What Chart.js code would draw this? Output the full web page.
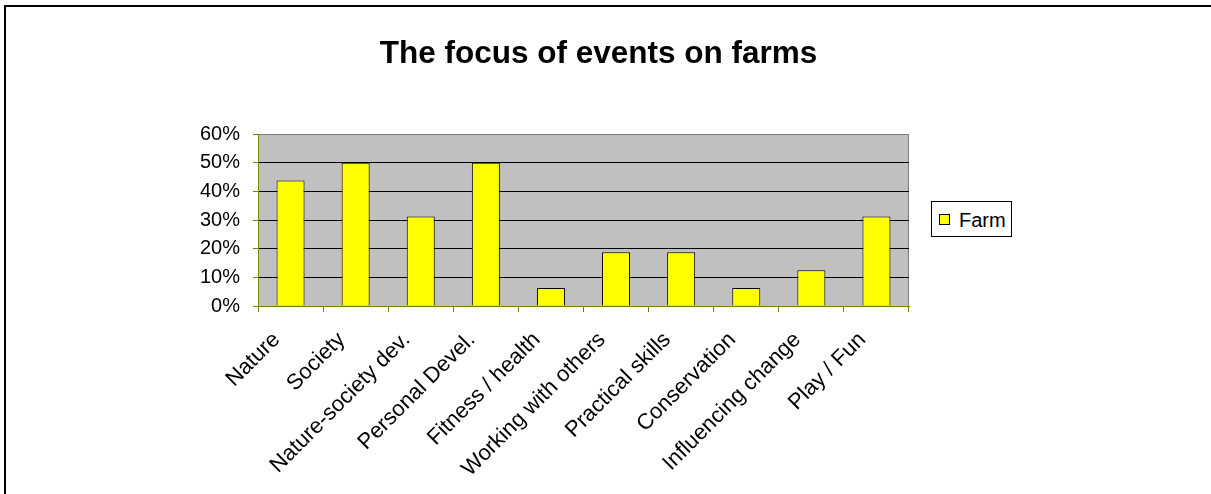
<!DOCTYPE html>
<html>
<head>
<meta charset="utf-8">
<title>The focus of events on farms</title>
<script src="https://cdn.jsdelivr.net/npm/chart.js@4"></script>
<style>
    body { margin: 0; background: #fff; overflow: hidden; font-family: Arial, "Liberation Sans", sans-serif; }
    #quadro { position: relative; width: 1211px; height: 494px; overflow: hidden; }
    #moldura { position: absolute; left: 4px; top: 5px; width: 1300px; height: 600px; border-left: 2px solid #000; border-top: 2px solid #000; }
    #titulo { position: absolute; left: 0; top: 37px; width: 1197px; text-align: center; font-weight: bold; font-size: 31.5px; line-height: 31.5px; color: #000; }
    #legenda { position: absolute; left: 931px; top: 201px; width: 79px; height: 34px; border: 1px solid #000; background: #fff; }
    #legenda .cor { position: absolute; left: 7px; top: 12px; width: 9px; height: 9px; border: 1px solid #000; background: #ffff00; }
    #legenda .texto { position: absolute; left: 27px; top: 8px; font-size: 20px; line-height: 20px; color: #000; }
    canvas { position: absolute; left: 0; top: 0; }
</style>
</head>
<body>
<div id="quadro">
    <div id="moldura"></div>
    <canvas id="grafico" width="1211" height="494"></canvas>
    <div id="titulo">The focus of events on farms</div>
    <div id="legenda"><span class="cor"></span><span class="texto">Farm</span></div>
</div>
<script>
const categorias = [
    'Nature',
    'Society',
    'Nature-society dev.',
    'Personal Devel.',
    'Fitness / health',
    'Working with others',
    'Practical skills',
    'Conservation',
    'Influencing change',
    'Play / Fun'
];

const valoresFarm = [43.75, 50, 31.25, 50, 6.25, 18.75, 18.75, 6.25, 12.5, 31.25];

const ticksY = [0, 10, 20, 30, 40, 50, 60];

const corOliva = '#808000';

const fundoAreaGrafico = {
    id: 'fundoAreaGrafico',
    beforeDraw(chart) {
        const { ctx, chartArea: a } = chart;
        ctx.save();
        ctx.fillStyle = '#c0c0c0';
        ctx.fillRect(a.left, a.top, a.right - a.left, a.bottom - a.top);
        ctx.strokeStyle = '#808080';
        ctx.lineWidth = 1;
        ctx.strokeRect(a.left + 0.5, a.top + 0.5, a.right - a.left - 1, a.bottom - a.top);
        ctx.restore();
    }
};

new Chart(document.getElementById('grafico').getContext('2d'), {
    type: 'bar',
    data: {
        labels: categorias,
        datasets: [{
            label: 'Farm',
            data: valoresFarm,
            backgroundColor: '#ffff00',
            borderColor: '#000',
            borderWidth: 1,
            borderSkipped: 'bottom',
            barPercentage: 0.43,
            categoryPercentage: 1
        }]
    },
    options: {
        responsive: false,
        animation: false,
        devicePixelRatio: 1,
        layout: {
            padding: { left: 0, top: 134, right: 302, bottom: 0 }
        },
        plugins: {
            legend: { display: false },
            title: { display: false },
            tooltip: { enabled: false }
        },
        scales: {
            x: {
                grid: {
                    offset: true,
                    drawOnChartArea: false,
                    drawTicks: true,
                    tickLength: 6,
                    tickColor: corOliva
                },
                border: { color: corOliva, width: 1 },
                ticks: {
                    autoSkip: false,
                    minRotation: 45,
                    maxRotation: 45,
                    padding: 15,
                    labelOffset: -14,
                    color: '#000',
                    font: { family: 'Arial, "Liberation Sans", sans-serif', size: 22 }
                },
                afterFit(scale) {
                    scale.height = 188;
                }
            },
            y: {
                min: 0,
                max: 60,
                afterBuildTicks(scale) {
                    scale.ticks = ticksY.map(v => ({ value: v }));
                },
                grid: {
                    color(context) {
                        const v = context.tick && context.tick.value;
                        return (v === 0 || v === 60) ? 'rgba(0,0,0,0)' : '#000';
                    },
                    tickLength: 5,
                    tickColor: corOliva
                },
                border: { color: corOliva, width: 1 },
                ticks: {
                    padding: 13,
                    color: '#000',
                    font: { family: 'Arial, "Liberation Sans", sans-serif', size: 20 },
                    callback: v => `${v}%`
                },
                afterFit(scale) {
                    scale.width = 258;
                }
            }
        }
    },
    plugins: [fundoAreaGrafico]
});
</script>
</body>
</html>
